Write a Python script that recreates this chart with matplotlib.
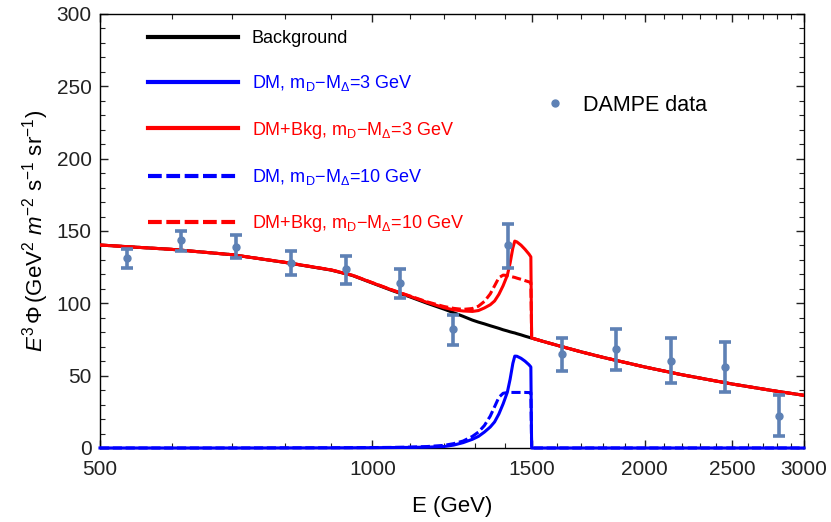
import matplotlib
matplotlib.use("Agg")
import matplotlib.pyplot as plt
from matplotlib.ticker import FixedLocator, FixedFormatter, NullFormatter
import numpy as np

plt.rcParams['font.family'] = ['Liberation Sans', 'DejaVu Sans']
plt.rcParams['mathtext.fontset'] = 'custom'
plt.rcParams['mathtext.rm'] = 'Liberation Sans'
plt.rcParams['mathtext.it'] = 'Liberation Sans:italic'
plt.rcParams['mathtext.bf'] = 'Liberation Sans:bold'

# model curves, common energy grid (GeV)
energy = [500, 600, 700, 800, 900, 950, 1000, 1050, 1100, 1150, 1200, 1230, 1260,
          1290, 1310, 1330, 1350, 1365, 1380, 1395, 1410, 1420, 1430, 1437, 1445,
          1460, 1475, 1490, 1497, 1500, 1550, 1600, 1700, 1800, 2000, 2200, 2500,
          2800, 3000]
background = [140.3, 137.3, 133.6, 128.3, 123.0, 119.3, 114.0, 109.0, 104.5, 100.0,
              96.0, 93.5, 91.0, 88.4, 87.0, 85.8, 84.5, 83.6, 82.7, 81.7, 80.9, 80.3,
              79.8, 79.5, 79.0, 78.2, 77.3, 76.5, 76.1, 76.0, 73.4, 71.0, 66.5, 62.6,
              56.0, 50.6, 44.2, 39.2, 36.4]
dm_3gev = [0.0, 0.0, 0.0, 0.05, 0.1, 0.15, 0.2, 0.3, 0.4, 0.6, 1.0, 2.0, 3.7,
           6.0, 8.0, 11.0, 14.5, 18.0, 23.5, 30.5, 38.5, 47.5, 58.5, 63.5, 63.4,
           62.0, 60.0, 57.5, 56.0, 0.0, 0.0, 0.0, 0.0, 0.0, 0.0, 0.0, 0.0, 0.0, 0.0]
dm_10gev = [0.0, 0.0, 0.0, 0.1, 0.15, 0.2, 0.3, 0.4, 0.6, 1.0, 1.8, 3.0, 4.8,
            8.0, 11.0, 15.5, 22.0, 28.5, 35.0, 37.8, 38.3, 38.4, 38.4, 38.4, 38.4,
            38.4, 38.4, 38.3, 38.3, 0.0, 0.0, 0.0, 0.0, 0.0, 0.0, 0.0, 0.0, 0.0, 0.0]

# DAMPE points
dampe_e = [535, 615, 707, 813, 935, 1072, 1227, 1411, 1621, 1860, 2138, 2456, 2815]
dampe_flux = [131.1, 143.7, 139.1, 128.1, 123.5, 113.8, 82.0, 140.3, 65.0, 68.4, 60.3, 56.2, 22.3]
dampe_hi = [137.7, 150.0, 147.4, 136.3, 132.9, 123.9, 92.1, 155.0, 75.9, 82.4, 75.9, 73.6, 36.8]
dampe_lo = [124.5, 136.5, 131.4, 119.4, 113.6, 103.8, 71.5, 124.5, 53.1, 53.7, 45.2, 38.8, 8.1]

x_major = [500, 1000, 1500, 2000, 2500, 3000]
x_minor = list(range(600, 3000, 100))

E = np.array(energy)
bkg = np.array(background)
dm3 = np.array(dm_3gev)
dm10 = np.array(dm_10gev)

fig = plt.figure(figsize=(8.31, 5.22), dpi=100)
ax = fig.add_axes([0.1203, 0.1418, 0.8472, 0.8314])

dash = (0, (3.0, 1.2))
l_bkg, = ax.plot(E, bkg, color='black', lw=2.2, zorder=2)
l_dm3, = ax.plot(E, dm3, color='#0000ff', lw=2.2, zorder=3, clip_on=False)
l_tot3, = ax.plot(E, bkg + dm3, color='#ff0000', lw=2.2, zorder=3)
l_dm10, = ax.plot(E, dm10, color='#0000ff', lw=2.2, ls=dash, zorder=3, clip_on=False)
l_tot10, = ax.plot(E, bkg + dm10, color='#ff0000', lw=2.2, ls=dash, zorder=3)

dcol = '#5e81b5'
flux = np.array(dampe_flux)
yerr = [flux - np.array(dampe_lo), np.array(dampe_hi) - flux]
ax.errorbar(dampe_e, flux, yerr=yerr, fmt='none', ecolor=dcol, elinewidth=2.6,
            capsize=4.0, capthick=2.6, zorder=5)
l_data, = ax.plot(dampe_e, flux, 'o', color=dcol, ms=5, zorder=6)

ax.set_xscale('log')
ax.set_xlim(500, 3000)
ax.set_ylim(0, 300)
ax.xaxis.set_major_locator(FixedLocator(x_major))
ax.xaxis.set_major_formatter(FixedFormatter([str(v) for v in x_major]))
ax.xaxis.set_minor_locator(FixedLocator(x_minor))
ax.xaxis.set_minor_formatter(NullFormatter())
ax.set_yticks(range(0, 301, 50))
ax.set_yticks(range(0, 301, 10), minor=True)

ax.tick_params(which='both', direction='in', top=True, right=True, labelsize=15,
               colors='#222222')
ax.tick_params(which='major', length=6, width=1)
ax.tick_params(which='minor', length=3.5, width=0.8)
ax.tick_params(axis='x', pad=9)
ax.tick_params(axis='y', pad=6)
for s in ax.spines.values():
    s.set_linewidth(1)

ax.set_xlabel('E (GeV)', fontsize=16, labelpad=12)
ax.set_ylabel(r'$E^3\,\Phi\,(\mathrm{GeV}^2\ m^{-2}\ \mathrm{s}^{-1}\ \mathrm{sr}^{-1})$',
              fontsize=16, labelpad=4)

labels = ['Background',
          r'DM, m$_\mathrm{D}$−M$_\Delta$=3 GeV',
          r'DM+Bkg, m$_\mathrm{D}$−M$_\Delta$=3 GeV',
          r'DM, m$_\mathrm{D}$−M$_\Delta$=10 GeV',
          r'DM+Bkg, m$_\mathrm{D}$−M$_\Delta$=10 GeV']
leg1 = ax.legend([l_bkg, l_dm3, l_tot3, l_dm10, l_tot10], labels, loc='upper left',
                 bbox_to_anchor=(0.068, 0.9635), frameon=False, fontsize=13,
                 handlelength=5.0, handletextpad=0.75, labelspacing=1.46,
                 borderaxespad=0, borderpad=0, labelcolor='linecolor')
for i, ln in enumerate(leg1.get_lines()):
    ln.set_linewidth(3)
    if i >= 3:
        ln.set_linestyle((0, (3.3, 1.1)))
ax.add_artist(leg1)

ax.legend([l_data], ['DAMPE data'], loc='upper left', bbox_to_anchor=(0.631, 0.8134),
          frameon=False, fontsize=15.5, handlelength=1.0, handletextpad=0.8,
          borderaxespad=0, borderpad=0, numpoints=1)

fig.savefig('out.png', dpi=100)
